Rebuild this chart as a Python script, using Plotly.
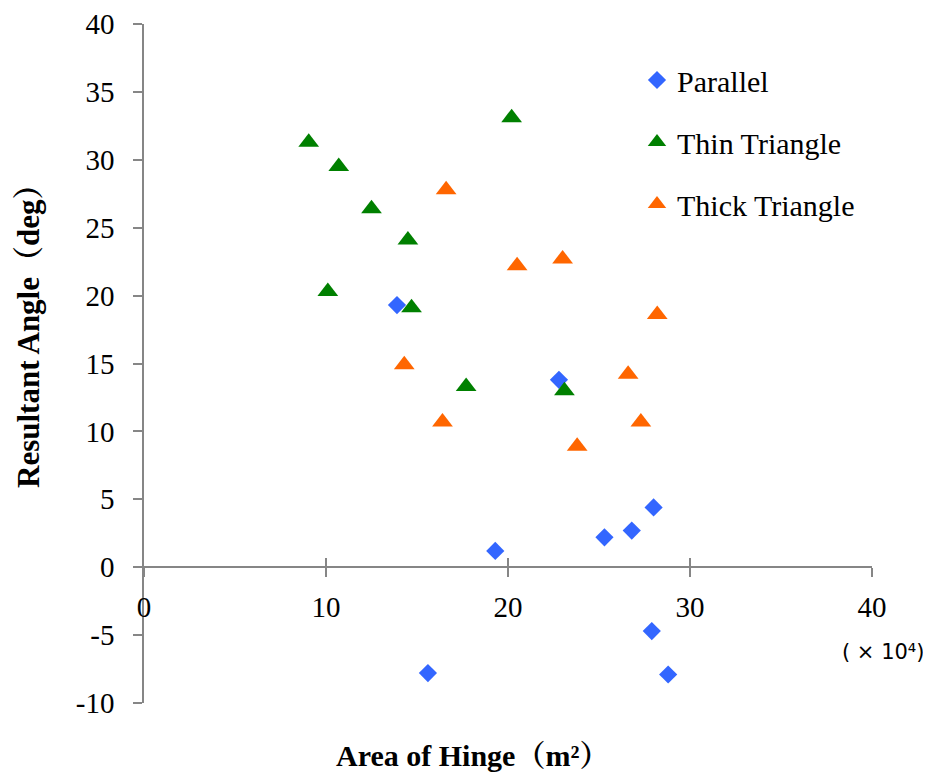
import plotly.graph_objects as go

# Data (x in units of 10^4 m², y in deg)
parallel_x = [13.9, 22.8, 19.3, 25.3, 26.8, 28.0, 27.9, 28.8, 15.6]
parallel_y = [19.3, 13.8, 1.2, 2.2, 2.7, 4.4, -4.7, -7.9, -7.8]

thin_x = [9.05, 10.7, 12.5, 14.5, 10.1, 14.7, 20.2, 17.7, 23.1]
thin_y = [31.3, 29.5, 26.4, 24.1, 20.3, 19.1, 33.1, 13.3, 13.0]

thick_x = [16.6, 20.5, 23.0, 28.2, 14.3, 26.6, 16.4, 27.3, 23.8]
thick_y = [27.8, 22.2, 22.7, 18.6, 14.9, 14.2, 10.7, 10.7, 8.9]

x_ticks = [0, 10, 20, 30, 40]
y_ticks = [-10, -5, 0, 5, 10, 15, 20, 25, 30, 35, 40]

SERIF = "Liberation Serif, Times New Roman, Noto Serif CJK SC, Noto Sans CJK SC, serif"
AXIS_GREY = "#868686"

# page body has an 8px margin; figure is sized to fit the 931x776 window
OFF = 8
W, H = 931 - OFF, 776 - OFF
PL, PR, PT, PB = 144 - OFF, 872 - OFF, 24 - OFF, 703 - OFF  # plot area in figure px
PW, PH = PR - PL, PB - PT


def px(xw):
    return (xw - OFF - PL) / PW


def py(yw):
    return (PB - (yw - OFF)) / PH


fig = go.Figure()
fig.add_trace(go.Scatter(x=parallel_x, y=parallel_y, mode="markers", name="Parallel",
                         legendgroup="a",
                         marker=dict(symbol="diamond", size=14, color="#3366FF")))
fig.add_trace(go.Scatter(x=thin_x, y=thin_y, mode="markers", name="Thin Triangle",
                         legendgroup="b",
                         marker=dict(symbol="triangle-up", size=18, color="#008000")))
fig.add_trace(go.Scatter(x=thick_x, y=thick_y, mode="markers", name="Thick Triangle",
                         legendgroup="c",
                         marker=dict(symbol="triangle-up", size=18, color="#FF6600")))
# invisible trace to carry the overlay axis (crossing ticks)
fig.add_trace(go.Scatter(x=[None], y=[None], xaxis="x2", showlegend=False, hoverinfo="skip"))

y_lo, y_hi = -10, 40
zero_pos = (0 - y_lo) / (y_hi - y_lo)

fig.update_layout(
    width=W, height=H,
    margin=dict(l=PL, r=W - PR, t=PT, b=H - PB, autoexpand=False),
    paper_bgcolor="white", plot_bgcolor="white",
    font=dict(family=SERIF, size=29, color="black"),
    showlegend=True,
    legend=dict(x=px(637), y=py(54), xanchor="left", yanchor="top",
                font=dict(family=SERIF, size=30, color="black"),
                tracegroupgap=20, bgcolor="rgba(0,0,0,0)"),
    xaxis=dict(range=[0, 40], tickvals=x_ticks, ticktext=[str(v) for v in x_ticks],
               anchor="free", position=zero_pos,
               showline=True, linecolor=AXIS_GREY, linewidth=1.5,
               ticks="outside", ticklen=9, tickcolor=AXIS_GREY, tickwidth=1.5,
               ticklabelstandoff=5,
               showgrid=False, zeroline=False, automargin=False,
               tickfont=dict(family=SERIF, size=29)),
    xaxis2=dict(range=[0, 40], tickvals=x_ticks, overlaying="x",
                anchor="free", position=zero_pos,
                showline=False, ticks="inside", ticklen=9, tickcolor=AXIS_GREY, tickwidth=1.5,
                showticklabels=False, showgrid=False, zeroline=False),
    yaxis=dict(range=[y_lo, y_hi], tickvals=y_ticks, ticktext=[str(v) for v in y_ticks],
               showline=True, linecolor=AXIS_GREY, linewidth=1.5,
               ticks="outside", ticklen=9, tickcolor=AXIS_GREY, tickwidth=1.5,
               ticklabelstandoff=13,
               showgrid=False, zeroline=False, automargin=False,
               tickfont=dict(family=SERIF, size=29)),
    annotations=[
        dict(text="<b>Resultant Angle（deg）</b>", xref="paper", yref="paper",
             x=px(28), y=py(328), textangle=-90,
             showarrow=False, xanchor="center", yanchor="middle",
             font=dict(family=SERIF, size=31, color="black")),
        dict(text="<b>Area of Hinge（m²）</b>", xref="paper", yref="paper",
             x=px(472), y=py(755),
             showarrow=False, xanchor="center", yanchor="middle",
             font=dict(family=SERIF, size=30, color="black")),
        dict(text="( × 10⁴)", xref="paper", yref="paper",
             x=px(926), y=py(652),
             showarrow=False, xanchor="right", yanchor="middle",
             font=dict(family="DejaVu Sans, Noto Sans CJK SC, sans-serif", size=21, color="black")),
    ],
)

fig.write_html("out.html")
